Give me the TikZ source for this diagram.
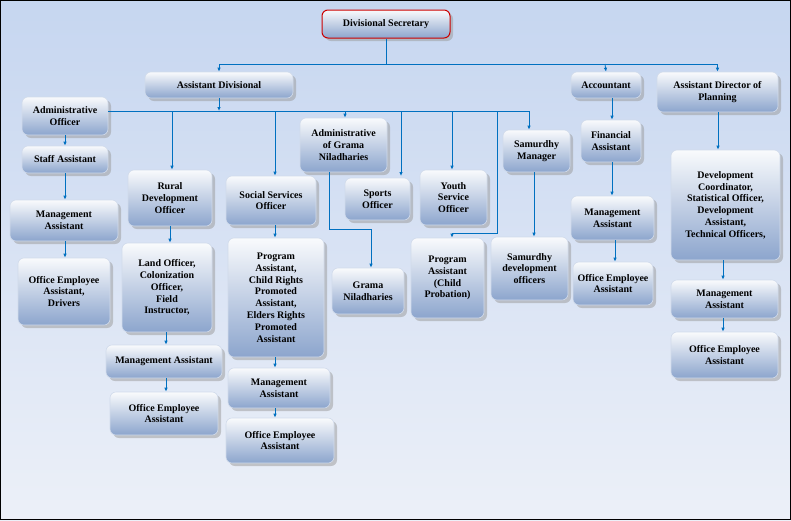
\documentclass[tikz,border=0pt]{standalone}
\usepackage{fontspec}
\setmainfont{Liberation Serif}
\usetikzlibrary{arrows.meta, positioning, shadows}
\definecolor{linecol}{RGB}{0,112,192}
\definecolor{boxdark}{RGB}{140,165,205}
\definecolor{bgtop}{RGB}{198,214,240}
\definecolor{bgbot}{RGB}{236,240,248}

% box from corner (x1,y1) to (x2,y2), in pixels
\newcommand\orgbox[6][]{%
  \pgfmathsetmacro\bw{#4-#2}\pgfmathsetmacro\bh{#5-#3}%
  \node[box, minimum width=\bw pt, minimum height=\bh pt, #1] (#6)
    at ({(#2+#4)/2},{(#3+#5)/2})}

\begin{document}
\begin{tikzpicture}[
    x=1pt, y=-1pt,
    box/.style={rounded corners=6pt, draw=white!60!boxdark, line width=0.6pt,
      top color=white!95!boxdark, bottom color=boxdark,
      drop shadow={shadow xshift=3pt, shadow yshift=-3pt, fill=gray!80},
      align=center, inner sep=1pt, font=\fontsize{10}{11.8}\selectfont\bfseries},
    arr/.style={draw=linecol, line width=0.8pt, -{Latex[length=4pt,width=3.5pt]}},
    ln/.style={draw=linecol, line width=0.8pt}
]
\useasboundingbox (0,0) rectangle (791,520);
\shade[top color=bgtop, bottom color=bgbot] (0,0) rectangle (791,520);
\draw[black, line width=1pt] (0.5,0.5) rectangle (790.5,519.5);

% top levels
\orgbox[draw=red!80!black, line width=1pt]{322}{10}{450}{38}{ds} {Divisional Secretary};
\orgbox{145}{72}{293}{98}{ad} {Assistant Divisional};
\orgbox{571}{72}{641}{98}{acc} {Accountant};
\orgbox{657}{72}{778}{112}{adp} {Assistant Director of\\Planning};

% left branch
\orgbox{22}{97}{108}{135}{ao} {Administrative\\Officer};
\orgbox{22}{146}{108}{173}{sa} {Staff Assistant};
\orgbox{10}{200}{118}{241}{ma1} {Management\\Assistant};
\orgbox{18}{258}{110}{325}{oe1} {Office Employee\\Assistant,\\Drivers};
\orgbox{128}{170}{212}{226}{rdo} {Rural\\Development\\Officer};
\orgbox{122}{243}{212}{332}{lo} {Land Officer,\\Colonization\\Officer,\\Field\\Instructor,};
\orgbox{106}{345}{222}{378}{ma2} {Management Assistant};
\orgbox{110}{392}{218}{435}{oe2} {Office Employee\\Assistant};
\orgbox{226}{176}{316}{225}{sso} {Social Services\\Officer};
\orgbox{228}{238}{324}{357}{pa} {Program\\Assistant,\\Child Rights\\Promoted\\Assistant,\\Elders Rights\\Promoted\\Assistant};
\orgbox{228}{368}{330}{408}{ma3} {Management\\Assistant};
\orgbox{226}{418}{334}{463}{oe3} {Office Employee\\Assistant};
\orgbox{300}{118}{387}{172}{agn} {Administrative\\of Grama\\Niladharies};
\orgbox{345}{178}{410}{220}{spo} {Sports\\Officer};
\orgbox{332}{268}{404}{314}{gn} {Grama\\Niladharies};
\orgbox{420}{170}{487}{225}{yso} {Youth\\Service\\Officer};
\orgbox{411}{238}{484}{318}{pcp} {Program\\Assistant\\(Child\\Probation)};
\orgbox{503}{130}{570}{172}{sm} {Samurdhy\\Manager};
\orgbox{491}{237}{568}{300}{sdo} {Samurdhy\\development\\officers};

% accountant branch
\orgbox{581}{120}{641}{162}{fa} {Financial\\Assistant};
\orgbox{571}{196}{654}{240}{ma4} {Management\\Assistant};
\orgbox{573}{262}{653}{305}{oe4} {Office Employee\\Assistant};

% planning branch
\orgbox{671}{150}{780}{260}{dc} {Development\\Coordinator,\\Statistical Officer,\\Development\\Assistant,\\Technical Officers,};
\orgbox{671}{280}{778}{318}{ma5} {Management\\Assistant};
\orgbox{671}{332}{778}{378}{oe5} {Office Employee\\Assistant};

% connectors
\coordinate (bus1) at (0,64);
\coordinate (bus2) at (0,111);
\draw[ln] (ds.south) -- (ds.south |- bus1);
\draw[ln] (ad.north |- bus1) -- (adp.north |- bus1);
\draw[arr] (ad.north |- bus1) -- (ad.north);
\draw[arr] (605,64) -- (acc.north);
\draw[arr] (adp.north |- bus1) -- (adp.north);

\draw[arr] (ad.south) -- (ad.south |- bus2);
\draw[ln] (ao.east |- bus2) -- (529,111);
\draw[arr] (172,111) -- (rdo.north -| 172,0);
\draw[arr] (275,111) -- (sso.north -| 275,0);
\draw[arr] (345,111) -- (agn.north -| 345,0);
\draw[arr] (401,111) -- (401,176);
\draw[arr] (452,111) -- (yso.north -| 452,0);
\draw[arr] (529,111) -- (sm.north -| 529,0);
\draw[ln] (497,111) -- (497,233) -- (452,233);
\draw[arr] (452,233) -- (pcp.north -| 452,0);
\draw[ln] (329,172) -- (329,229) -- (371,229);
\draw[arr] (371,229) -- (gn.north -| 371,0);

\draw[arr] (ao.south) -- (sa.north);
\draw[arr] (sa.south) -- (sa.south |- ma1.north);
\draw[arr] (sa.south |- ma1.south) -- (sa.south |- oe1.north);
\draw[arr] (rdo.south -| 170,0) -- (lo.north -| 170,0);
\draw[arr] (lo.south -| 166,0) -- (ma2.north -| 166,0);
\draw[arr] (ma2.south -| 166,0) -- (oe2.north -| 166,0);
\draw[arr] (sso.south -| 275,0) -- (pa.north -| 275,0);
\draw[arr] (pa.south -| 275,0) -- (ma3.north -| 275,0);
\draw[arr] (ma3.south -| 275,0) -- (oe3.north -| 275,0);
\draw[arr] (sm.south -| 534,0) -- (sdo.north -| 534,0);
\draw[arr] (acc.south -| 612,0) -- (fa.north -| 612,0);
\draw[arr] (fa.south -| 612,0) -- (ma4.north -| 612,0);
\draw[arr] (ma4.south -| 615,0) -- (oe4.north -| 615,0);
\draw[arr] (adp.south -| 718,0) -- (dc.north -| 718,0);
\draw[arr] (dc.south -| 723,0) -- (ma5.north -| 723,0);
\draw[arr] (ma5.south -| 723,0) -- (oe5.north -| 723,0);
\end{tikzpicture}
\end{document}
